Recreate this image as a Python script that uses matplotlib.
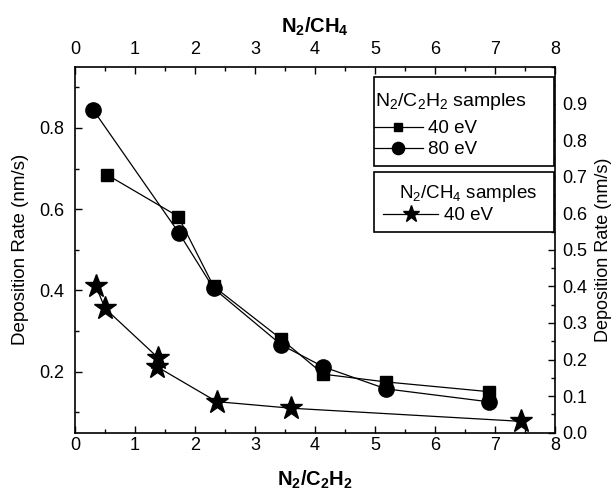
import matplotlib.pyplot as plt
from matplotlib.ticker import MultipleLocator, FormatStrFormatter
from matplotlib.patches import Rectangle

plt.rcParams['font.family'] = ['Liberation Sans', 'DejaVu Sans']
plt.rcParams['mathtext.fontset'] = 'custom'
plt.rcParams['mathtext.rm'] = 'Liberation Sans'
plt.rcParams['mathtext.it'] = 'Liberation Sans'
plt.rcParams['mathtext.bf'] = 'Liberation Sans:bold'

# N2/C2H2 samples (bottom x, left y)
c2h2_ratio_40 = [0.53, 1.72, 2.31, 3.44, 4.14, 5.18, 6.90]
rate_40 = [0.685, 0.582, 0.41, 0.28, 0.194, 0.175, 0.151]
c2h2_ratio_80 = [0.30, 1.73, 2.31, 3.44, 4.14, 5.18, 6.90]
rate_80 = [0.845, 0.542, 0.405, 0.266, 0.212, 0.158, 0.126]

# N2/CH4 samples (top x, right y)
ch4_ratio = [0.345, 0.50, 1.39, 1.36, 2.36, 3.60, 7.44]
rate_ch4 = [0.402, 0.340, 0.204, 0.181, 0.085, 0.067, 0.031]

fig = plt.figure(figsize=(6.16, 4.96), dpi=100)
pos = [0.1218, 0.1276, 0.7792, 0.7374]
ax = fig.add_axes(pos)
ax2 = fig.add_axes(pos, frameon=False)

l40, = ax.plot(c2h2_ratio_40, rate_40, 'k-', marker='s', ms=8, lw=0.9)
l80, = ax.plot(c2h2_ratio_80, rate_80, 'k-', marker='o', ms=11, lw=0.9)
lch4, = ax2.plot(ch4_ratio, rate_ch4, 'k-', marker='*', ms=17, lw=0.9)

ax.set_xlim(0, 8)
ax.set_ylim(0.05, 0.95)
ax2.set_xlim(0, 8)
ax2.set_ylim(0, 1.0)

ax.xaxis.set_major_locator(MultipleLocator(1))
ax.xaxis.set_minor_locator(MultipleLocator(0.5))
ax.set_yticks([0.2, 0.4, 0.6, 0.8])
ax.yaxis.set_minor_locator(MultipleLocator(0.1))
ax.yaxis.set_major_formatter(FormatStrFormatter('%.1f'))

ax2.xaxis.set_major_locator(MultipleLocator(1))
ax2.xaxis.set_minor_locator(MultipleLocator(0.5))
ax2.set_yticks([0, 0.1, 0.2, 0.3, 0.4, 0.5, 0.6, 0.7, 0.8, 0.9])
ax2.yaxis.set_minor_locator(MultipleLocator(0.05))
ax2.yaxis.set_major_formatter(FormatStrFormatter('%.1f'))
ax2.xaxis.tick_top()
ax2.yaxis.tick_right()
ax2.xaxis.set_label_position('top')
ax2.yaxis.set_label_position('right')

for a in (ax, ax2):
    a.tick_params(which='major', direction='in', length=5, width=1, labelsize=13)
    a.tick_params(which='minor', direction='in', length=3, width=1)
ax.tick_params(axis='both', which='both', top=False, right=False)
ax.tick_params(axis='y', pad=8)
ax.tick_params(axis='x', pad=3)
ax2.tick_params(axis='y', pad=5)
ax2.tick_params(axis='x', pad=6.5)
for s in ax.spines.values():
    s.set_linewidth(1.2)

ax.set_xlabel(r'$\mathbf{N_2/C_2H_2}$', fontsize=14.5, labelpad=11)
ax.set_ylabel('Deposition Rate (nm/s)', fontsize=13.5, labelpad=7)
ax2.set_xlabel(r'$\mathbf{N_2/CH_4}$', fontsize=14.5, labelpad=6)
ax2.set_ylabel('Deposition Rate (nm/s)', fontsize=13, labelpad=6)

# legend frames
for (x0, y0, w, h) in [(0.623, 0.729, 0.375, 0.2434), (0.623, 0.549, 0.375, 0.1640)]:
    ax2.add_patch(Rectangle((x0, y0), w, h, transform=ax2.transAxes, facecolor='white',
                            edgecolor='k', lw=1.2, zorder=5, clip_on=False))

ax2.text(0.625, 0.893, r'N$_2$/C$_2$H$_2$ samples', transform=ax2.transAxes,
         fontsize=14, va='baseline', ha='left', zorder=6)
ax2.text(0.675, 0.642, r'N$_2$/CH$_4$ samples', transform=ax2.transAxes,
         fontsize=13.5, va='baseline', ha='left', zorder=6)

leg1 = ax2.legend([l40, l80], ['40 eV', '80 eV'], loc='upper left',
                  bbox_to_anchor=(0.623, 0.855), frameon=False, borderpad=0,
                  borderaxespad=0, handlelength=2.6, handletextpad=0.3,
                  labelspacing=0.21, fontsize=13.5, markerscale=0.8)
leg1.set_zorder(7)
ax2.add_artist(leg1)
leg2 = ax2.legend([lch4], ['40 eV'], loc='upper left',
                  bbox_to_anchor=(0.642, 0.617), frameon=False, borderpad=0,
                  borderaxespad=0, handlelength=2.95, handletextpad=0.27,
                  fontsize=13.5, markerscale=0.75)
leg2.set_zorder(7)

fig.savefig('out.png', dpi=100)
